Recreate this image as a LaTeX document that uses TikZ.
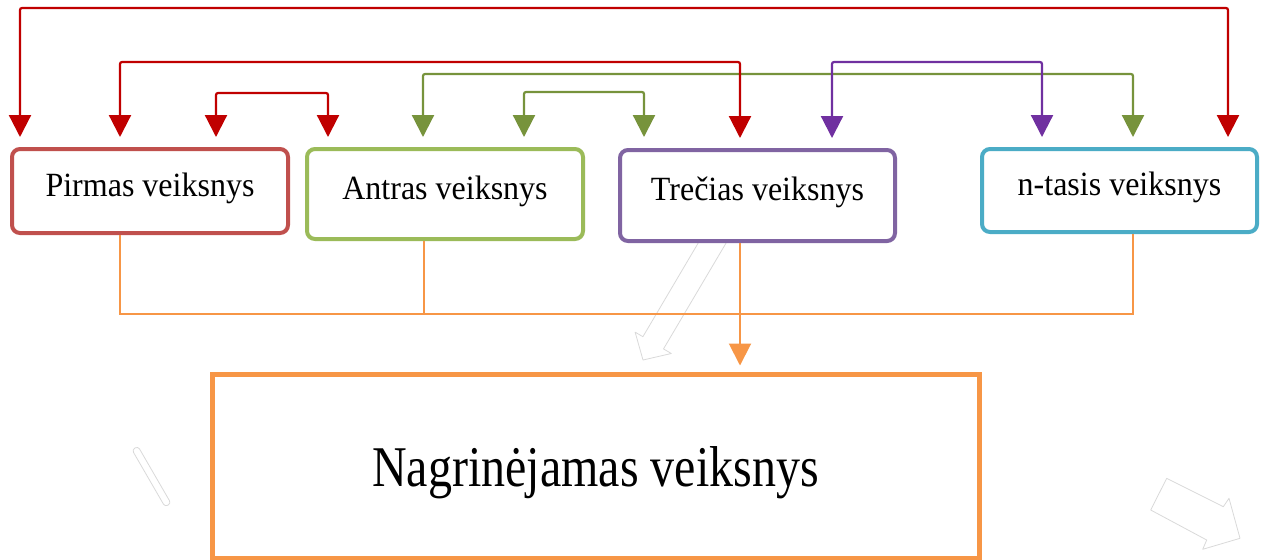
\documentclass[tikz,border=0pt]{standalone}
\usepackage{fontspec}
\setmainfont{Liberation Serif}
\usetikzlibrary{arrows.meta}
\definecolor{boxred}{HTML}{C0504D}
\definecolor{boxgreen}{HTML}{9BBB59}
\definecolor{boxpurple}{HTML}{8064A2}
\definecolor{boxcyan}{HTML}{4BACC6}
\definecolor{orangec}{HTML}{F79646}
\definecolor{arrred}{HTML}{C00000}
\definecolor{arrgreen}{HTML}{77933C}
\definecolor{arrpurple}{HTML}{7030A0}
\begin{document}
\begin{tikzpicture}[x=0.5pt,y=-0.5pt,
  factor/.style={draw, fill=white, line width=2pt, rounded corners=4pt,
    text height=0.6em, text depth=0.1em, inner sep=0pt,
    font=\fontsize{16}{19}\selectfont},
  mainbox/.style={draw=orangec, fill=white, line width=2.5pt,
    text height=20pt, text depth=0pt, inner sep=0pt,
    font=\fontsize{24}{28}\selectfont},
  link/.style={line width=1.1pt, rounded corners=1pt,
    {Triangle[width=11pt,length=11pt]}-{Triangle[width=11pt,length=11pt]},
    shorten <=5pt, shorten >=5pt},
  feed/.style={draw=orangec, line width=1pt},
  ghost/.style={draw=black!15, line width=0.4pt, line join=round}]
\useasboundingbox (0,0) rectangle (1264,559);

% faint ghost shapes
\draw[ghost] (698.2,243) -- (642.9,336.7) -- (635.1,332.1) -- (643,360)
  -- (671.3,353.5) -- (663.5,348.9) -- (726.1,243);
\draw[ghost, rounded corners=1.5pt] (138,446.3) -- (171,503.3) -- (165,506.8) -- (132,449.8) -- cycle;
\draw[ghost] (1166.7,478.3) -- (1223.3,506.7) -- (1229,498.3) -- (1240,538.3)
  -- (1202.7,549.3) -- (1206.7,540) -- (1150.7,510) -- cycle;

% factor boxes
\node[factor, draw=boxred, minimum width=138pt, minimum height=42pt] (p) at (150,191)
  {\scalebox{1}[1.06]{Pirmas veiksnys}};
\node[factor, draw=boxgreen, minimum width=138pt, minimum height=45pt] (a) at (445,194)
  {\scalebox{1}[1.06]{Antras veiksnys}};
\node[factor, draw=boxpurple, minimum width=137.5pt, minimum height=45.5pt] (t) at (757.5,195.5)
  {\scalebox{1}[1.06]{Trečias veiksnys}};
\node[factor, draw=boxcyan, minimum width=137.5pt, minimum height=41.5pt] (n) at (1119.5,190.5)
  {\scalebox{1}[1.06]{n-tasis veiksnys}};
\node[mainbox, minimum width=383.5pt, minimum height=92pt] (g) at (595.5,466)
  {\scalebox{1}[1.2]{Nagrinėjamas veiksnys}};

% interaction arrows (green first, red and purple on top)
\draw[link, arrgreen] (a.north -| 423,0) -- (423,74) -- (1133,74) -- (n.north -| 1133,0);
\draw[link, arrgreen] (a.north -| 524,0) -- (524,92) -- (644,92) -- (a.north -| 644,0);
\draw[link, arrred] (p.north -| 20,0) -- (20,8) -- (1228,8) -- (n.north -| 1228,0);
\draw[link, arrred] (p.north -| 120,0) -- (120,62) -- (740,62) -- (t.north -| 740,0);
\draw[link, arrred] (p.north -| 216,0) -- (216,93) -- (328,93) -- (p.north -| 328,0);
\draw[link, arrpurple] (t.north -| 832,0) -- (832,62) -- (1042,62) -- (n.north -| 1042,0);

% feeds into the main factor
\coordinate (busL) at (120,314);
\coordinate (busR) at (1133,314);
\draw[feed] (p.south -| busL) -- (busL) -- (busR) -- (n.south -| busR);
\draw[feed] (a.south -| 424,0) -- (424,314);
\draw[feed, -{Triangle[width=11pt,length=11pt]}, shorten >=3pt] (t.south -| 740,0) -- (g.north -| 740,0);
\end{tikzpicture}
\end{document}
